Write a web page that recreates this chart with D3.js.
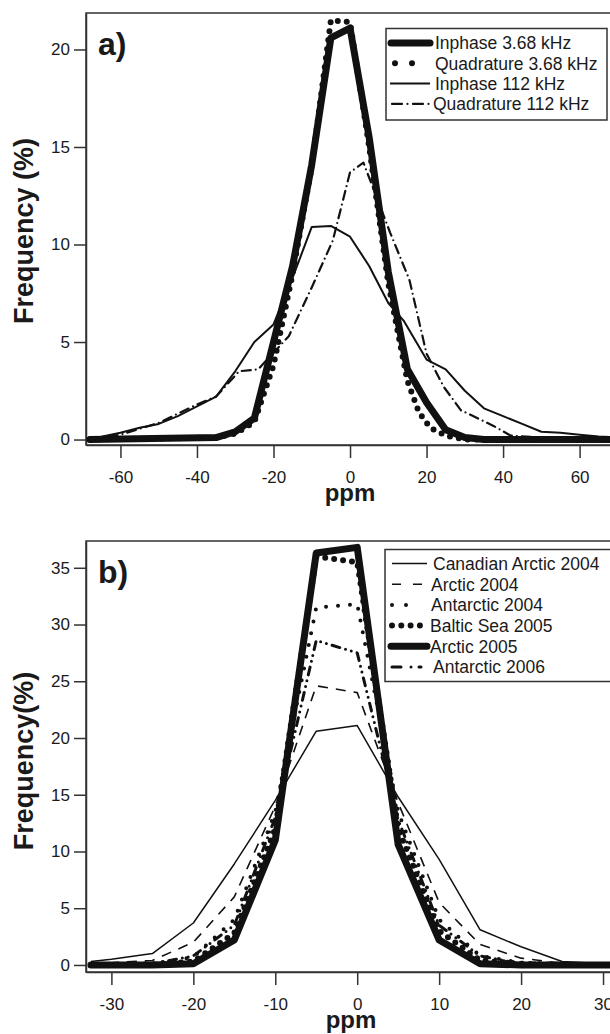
<!DOCTYPE html>
<html lang="en">
<head>
    <meta charset="UTF-8">
    <title>Frequency vs ppm</title>
    <script src="https://d3js.org/d3.v7.min.js"></script>
    <style>
        body { margin: 0; background: #fff; }
        text { font-family: "Liberation Sans", Arial, sans-serif; fill: #1a1a1a; }
    </style>
</head>
<body>
    <svg id="chart" width="610" height="1034"></svg>

    <script>
        // ---- panel a) data: [ppm, frequency %] ----
        var inphase368 = [[-68, 0], [-35, 0.1], [-30, 0.4], [-25, 1.1], [-20, 5.0], [-15, 8.9], [-10, 14.1],
            [-5, 20.6], [0, 21.1], [5, 15.5], [10, 8.6], [15, 3.6], [20, 1.9], [25, 0.5], [30, 0.1], [35, 0], [75, 0]];
        var quad368 = [[-68, 0], [-35, 0.1], [-30, 0.3], [-25, 0.9], [-20, 3.8], [-15, 8.5], [-10, 14.0],
            [-5, 21.5], [0, 21.4], [5, 15.0], [10, 8.0], [15, 3.0], [18, 1.4], [21, 0.6], [25, 0.2], [30, 0], [75, 0]];
        var inphase112 = [[-68, 0.05], [-65, 0.15], [-60, 0.35], [-55, 0.6], [-50, 0.8], [-45, 1.2], [-40, 1.7],
            [-35, 2.2], [-30, 3.5], [-25, 5.0], [-20, 5.9], [-15, 8.3], [-10, 10.9], [-5, 10.95], [0, 10.4],
            [5, 8.9], [10, 7.0], [14, 6.1], [20, 4.1], [25, 3.6], [30, 2.5], [35, 1.6], [40, 1.2], [45, 0.8],
            [50, 0.4], [55, 0.35], [60, 0.25], [65, 0.15], [75, 0.1]];
        var quad112 = [[-68, 0.05], [-60, 0.25], [-50, 0.85], [-40, 1.8], [-35, 2.2], [-29, 3.5], [-24, 3.6],
            [-16, 5.3], [-10, 7.8], [-4.5, 10.2], [0, 13.7], [3.5, 14.2], [10.5, 10.6], [15.5, 8.2], [20, 4.4],
            [24.5, 2.7], [29, 1.5], [37.5, 0.7], [42, 0.2], [50, 0.1], [75, 0.05]];

        var seriesA = ["Inphase 3.68 kHz", "Quadrature 3.68 kHz", "Inphase 112 kHz", "Quadrature 112 kHz"];
        var ticksAx = [-60, -40, -20, 0, 20, 40, 60];
        var ticksAy = [0, 5, 10, 15, 20];

        // ---- panel b) data: common ppm bins ----
        var ppmB = [-32.5, -30, -25, -20, -15, -10, -5, 0, 5, 10, 15, 20, 25, 30, 36];
        var canadian2004 = [0.3, 0.5, 1.0, 3.7, 8.9, 14.5, 20.6, 21.1, 14.8, 9.3, 3.1, 1.6, 0.3, 0.1, 0.05];
        var arctic2004 = [0.1, 0.2, 0.4, 2.0, 6.0, 14.0, 24.6, 24.0, 14.3, 5.5, 1.8, 0.6, 0.15, 0.05, 0];
        var antarctic2004 = [0, 0.05, 0.1, 0.7, 4.0, 13.5, 31.5, 31.8, 13.5, 4.0, 0.8, 0.2, 0.05, 0, 0];
        var baltic2005 = [0, 0, 0.05, 0.3, 2.8, 12.0, 36.0, 35.5, 12.0, 3.0, 0.4, 0.1, 0, 0, 0];
        var arctic2005 = [0, 0, 0, 0.1, 2.2, 11.0, 36.3, 36.8, 10.6, 2.2, 0.1, 0, 0, 0, 0];
        var antarctic2006 = [0, 0, 0.1, 0.8, 3.5, 13.0, 28.6, 27.5, 12.8, 3.5, 0.8, 0.1, 0, 0, 0];

        var seriesB = ["Canadian Arctic 2004", "Arctic 2004", "Antarctic 2004", "Baltic Sea 2005", "Arctic 2005", "Antarctic 2006"];
        var ticksBx = [-30, -20, -10, 0, 10, 20, 30];
        var ticksBy = [0, 5, 10, 15, 20, 25, 30, 35];

        var svg = d3.select("#chart");

        // line styles (width, dash, cap)
        var stylesA = [
            { w: 7, dash: null, cap: "round" },
            { w: 6, dash: "0 9", cap: "round" },
            { w: 2, dash: null, cap: "butt" },
            { w: 2.2, dash: "9 5 0 5", cap: "round" }
        ];
        var stylesB = [
            { w: 1.5, dash: null, cap: "butt" },
            { w: 1.6, dash: "10 8", cap: "butt" },
            { w: 4, dash: "0 12", cap: "round" },
            { w: 6, dash: "0 9", cap: "round" },
            { w: 7, dash: null, cap: "round" },
            { w: 3, dash: "8 6 0 6 0 6", cap: "round" }
        ];

        function drawPanel(opt) {
            var x = d3.scaleLinear().domain(opt.xDomain).range([86, opt.xRight]);
            var y = d3.scaleLinear().domain(opt.yDomain).range([opt.bottom, opt.top]);

            // frame
            svg.append("rect")
                .attr("x", 86).attr("y", opt.top)
                .attr("width", opt.xRight - 86).attr("height", opt.bottom - opt.top)
                .attr("fill", "none").attr("stroke", "#333").attr("stroke-width", 1.5);

            // axes (plain hyphen for negatives, like the original)
            var xAxis = svg.append("g")
                .attr("transform", "translate(0," + opt.bottom + ")")
                .call(d3.axisBottom(x).tickValues(opt.xTicks).tickFormat(d => String(d))
                    .tickSize(13).tickSizeOuter(0).tickPadding(13));
            var yAxis = svg.append("g")
                .attr("transform", "translate(86,0)")
                .call(d3.axisLeft(y).tickValues(opt.yTicks).tickFormat(d => String(d))
                    .tickSize(12).tickSizeOuter(0).tickPadding(4));
            [xAxis, yAxis].forEach(function (g) {
                g.select(".domain").attr("stroke", "#333").attr("stroke-width", 1.5);
                g.selectAll(".tick line").attr("stroke", "#333").attr("stroke-width", 1.5);
                g.selectAll(".tick text").attr("font-size", "17px").attr("fill", "#1a1a1a")
                    .attr("font-family", "Liberation Sans, Arial, sans-serif");
            });

            // curves
            var line = d3.line().x(d => x(d[0])).y(d => y(d[1]));
            opt.data.forEach(function (pts, i) {
                var st = opt.styles[i];
                svg.append("path")
                    .datum(pts)
                    .attr("d", line)
                    .attr("fill", "none")
                    .attr("stroke", "#111")
                    .attr("stroke-width", st.w)
                    .attr("stroke-linecap", st.cap)
                    .attr("stroke-linejoin", "round")
                    .attr("stroke-dasharray", st.dash);
            });

            // axis titles
            svg.append("text")
                .attr("x", opt.ppmX).attr("y", opt.ppmY)
                .attr("text-anchor", "middle")
                .attr("font-size", "24px").attr("font-weight", "bold")
                .text("ppm");
            svg.append("text")
                .attr("transform", "translate(33," + opt.yLabelY + ") rotate(-90)")
                .attr("text-anchor", "middle")
                .attr("font-size", "27px").attr("font-weight", "bold")
                .text(opt.yLabel);

            // panel letter
            svg.append("text")
                .attr("x", 98).attr("y", opt.letterY)
                .attr("font-size", "32px").attr("font-weight", "bold")
                .text(opt.letter);

            // legend
            var lg = svg.append("g");
            lg.append("rect")
                .attr("x", opt.leg.x).attr("y", opt.leg.y)
                .attr("width", opt.leg.w).attr("height", opt.leg.h)
                .attr("fill", "#fff").attr("stroke", "#333").attr("stroke-width", 1.5);
            opt.names.forEach(function (name, i) {
                var st = opt.styles[i];
                var ry = opt.leg.row0 + i * opt.leg.step;
                var s = opt.leg.samples[i];
                lg.append("line")
                    .attr("x1", s[0]).attr("x2", s[1])
                    .attr("y1", ry).attr("y2", ry)
                    .attr("stroke", "#111")
                    .attr("stroke-width", st.w)
                    .attr("stroke-linecap", st.cap)
                    .attr("stroke-dasharray", s[2] || st.dash);
                lg.append("text")
                    .attr("x", s[3]).attr("y", ry)
                    .attr("dy", "0.36em")
                    .attr("font-size", "17.5px")
                    .text(name);
            });
        }

        // panel a)
        drawPanel({
            xDomain: [-69, 75], xRight: 637,
            yDomain: [-0.28, 21.87], top: 13, bottom: 445,
            xTicks: ticksAx, yTicks: ticksAy,
            data: [inphase368, quad368, inphase112, quad112],
            styles: stylesA, names: seriesA,
            ppmX: 350, ppmY: 501, yLabel: "Frequency (%)", yLabelY: 231,
            letter: "a)", letterY: 55,
            leg: { x: 386, y: 28.5, w: 221, h: 91.5, row0: 43, step: 20.3,
                samples: [[391, 430, null, 435], [395, 413, "0 17", 435], [390, 430, null, 435], [392, 431, "10 5.5 0 5.5", 433]] }
        });

        // panel b)
        var dataB = [canadian2004, arctic2004, antarctic2004, baltic2005, arctic2005, antarctic2006]
            .map(vals => vals.map((v, i) => [ppmB[i], v]));
        drawPanel({
            xDomain: [-33.1, 35], xRight: 644,
            yDomain: [-0.62, 37.36], top: 541, bottom: 972,
            xTicks: ticksBx, yTicks: ticksBy,
            data: dataB,
            styles: stylesB, names: seriesB,
            ppmX: 351, ppmY: 1028, yLabel: "Frequency(%)", yLabelY: 761,
            letter: "b)", letterY: 583,
            leg: { x: 385, y: 549.5, w: 240, h: 132, row0: 563.5, step: 20.7,
                samples: [[392, 427, null, 433], [392, 423, "9 12", 431], [392, 420, "0 14", 431],
                          [392, 420, "0 9.3", 430], [391, 427, null, 430], [392, 421, "9 10 0 8", 433]] }
        });
    </script>
</body>
</html>
